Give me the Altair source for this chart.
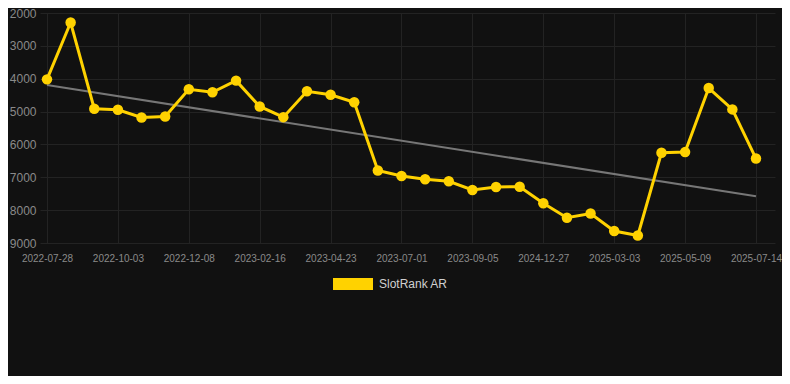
import altair as alt
import pandas as pd

# Rank values (one per point, in order)
ranks = [4020, 2290, 4914, 4944, 5180, 5150, 4323, 4412, 4058, 4845,
         5170, 4383, 4490, 4717, 6794, 6962, 7060, 7120, 7385, 7296,
         7287, 7789, 8232, 8104, 8636, 8772, 6253, 6234, 4285, 4934, 6430]
# Tick labels shown every third point
tick_labels = ["2022-07-28", "2022-10-03", "2022-12-08", "2023-02-16",
               "2023-04-23", "2023-07-01", "2023-09-05", "2024-12-27",
               "2025-03-03", "2025-05-09", "2025-07-14"]
series_name = "SlotRank AR"
y_ticks = [2000, 3000, 4000, 5000, 6000, 7000, 8000, 9000]

df = pd.DataFrame({
    "idx": list(range(len(ranks))),
    "rank": ranks,
    "series": [series_name] * len(ranks),
})

YELLOW = "#FFD200"
FONT = "Liberation Sans"

label_expr = "[" + ",".join("'" + s + "'" for s in tick_labels) + "][round(datum.value/3)]"

x_enc = alt.X(
    "idx:Q",
    scale=alt.Scale(domain=[-0.2962, 30.804], nice=False, zero=False),
    axis=alt.Axis(
        values=[i * 3 for i in range(len(tick_labels))],
        labelExpr=label_expr,
        title=None, domain=False, ticks=False,
        labelFontSize=10, labelColor="#8a8a8a", labelPadding=10,
        labelFont=FONT, gridColor="#232323", gridWidth=1,
    ),
)
y_enc = alt.Y(
    "rank:Q",
    scale=alt.Scale(domain=[2000, 9000], reverse=True, nice=False, zero=False),
    axis=alt.Axis(
        values=y_ticks, format="d", title=None, domain=False, ticks=False,
        labelFontSize=12, labelColor="#8a8a8a", labelPadding=4,
        labelFont=FONT, gridColor="#232323", gridWidth=1,
    ),
)

color_enc = alt.Color(
    "series:N",
    scale=alt.Scale(domain=[series_name], range=[YELLOW]),
    legend=alt.Legend(
        title=None, orient="none", legendX=293, legendY=251,
        symbolType="M-1,-0.3H1V0.3H-1Z", symbolSize=1600,
        symbolStrokeWidth=0, symbolFillColor=YELLOW, symbolOpacity=1,
        labelColor="#d0d0d0", labelFontSize=12, labelFont=FONT,
        labelOffset=6, padding=0, symbolOffset=0,
    ),
)

base = alt.Chart(df)

trend = base.transform_regression("idx", "rank").mark_line(
    color="#777777", strokeWidth=2
).encode(x=x_enc, y=y_enc)

line = base.mark_line(strokeWidth=3).encode(x=x_enc, y=y_enc, color=color_enc)

points = base.mark_point(filled=True, size=110, opacity=1, shape="circle").encode(
    x=x_enc, y=y_enc,
    color=alt.Color("series:N", scale=alt.Scale(domain=[series_name], range=[YELLOW]), legend=None),
)

chart = alt.layer(trend, line, points).properties(
    width=735, height=230,
    background="#111111",
    padding={"left": 32, "top": 5, "right": 7, "bottom": 133},
    autosize=alt.AutoSizeParams(type="none"),
).configure_view(stroke=None)

chart.save("out.html", embed_options={"renderer": "svg", "actions": False})
